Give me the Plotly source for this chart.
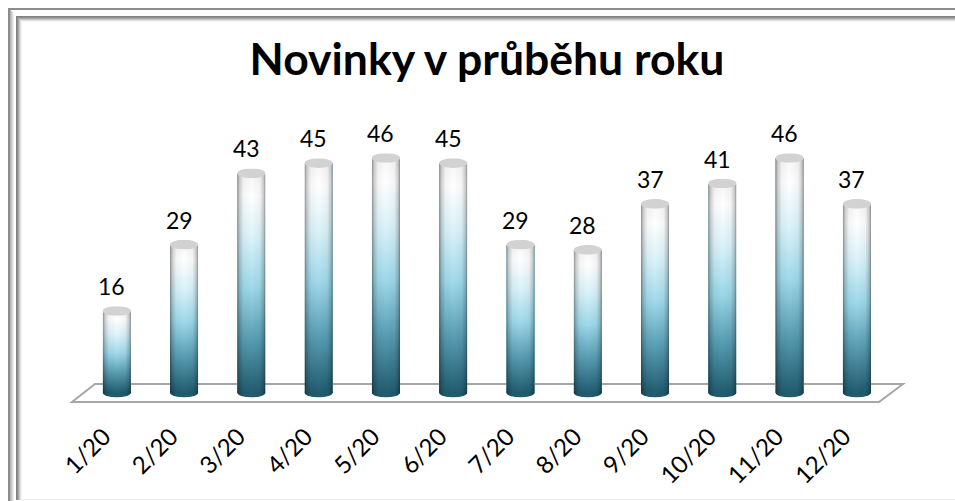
import base64
import plotly.graph_objects as go

title = "Novinky v průběhu roku"
months = ["1/20", "2/20", "3/20", "4/20", "5/20", "6/20", "7/20", "8/20", "9/20", "10/20", "11/20", "12/20"]
values = [16, 29, 43, 45, 46, 45, 29, 28, 37, 41, 46, 37]

W, H = 955, 501
PLOT_B = 402
X0, DX = 116.8, 67.28
Y0, DY = 392.6, 5.1
BAR_W = 0.42
CAP = 0.95  # half height of the cylinder caps, in value units


def uri(svg):
    return "data:image/svg+xml;base64," + base64.b64encode(svg.encode()).decode()


SHADE = ('<linearGradient id="h" x1="0" x2="1" y1="0" y2="0">'
         '<stop offset="0" stop-color="#000" stop-opacity=".45"/>'
         '<stop offset=".08" stop-color="#000" stop-opacity=".2"/>'
         '<stop offset=".22" stop-color="#000" stop-opacity=".04"/>'
         '<stop offset=".5" stop-color="#000" stop-opacity="0"/>'
         '<stop offset=".8" stop-color="#000" stop-opacity=".04"/>'
         '<stop offset=".93" stop-color="#000" stop-opacity=".2"/>'
         '<stop offset="1" stop-color="#000" stop-opacity=".45"/></linearGradient>')

BODY = uri('<svg xmlns="http://www.w3.org/2000/svg" viewBox="0 0 100 100" preserveAspectRatio="none" width="100" height="100">'
           '<defs><linearGradient id="v" x1="0" x2="0" y1="0" y2="1">'
           '<stop offset="0" stop-color="#f6f6f6"/>'
           '<stop offset=".1" stop-color="#ffffff"/>'
           '<stop offset=".3" stop-color="#d9f2f9"/>'
           '<stop offset=".52" stop-color="#9fd9ea"/>'
           '<stop offset=".75" stop-color="#5a9fb4"/>'
           '<stop offset="1" stop-color="#215c6f"/></linearGradient>' + SHADE + '</defs>'
           '<rect width="100" height="100" fill="url(#v)"/><rect width="100" height="100" fill="url(#h)"/></svg>')

TOP = uri('<svg xmlns="http://www.w3.org/2000/svg" viewBox="0 0 100 100" preserveAspectRatio="none" width="100" height="100">'
          '<ellipse cx="50" cy="50" rx="50" ry="50" fill="#d2d2d2"/></svg>')

BOTTOM = uri('<svg xmlns="http://www.w3.org/2000/svg" viewBox="0 0 100 100" preserveAspectRatio="none" width="100" height="100">'
             '<defs>' + SHADE + '</defs>'
             '<ellipse cx="50" cy="50" rx="50" ry="50" fill="#215c6f"/>'
             '<ellipse cx="50" cy="50" rx="50" ry="50" fill="url(#h)"/></svg>')

positions = list(range(len(months)))

images = []
for i, v in zip(positions, values):
    common = dict(xref="x", yref="y", xanchor="left", yanchor="top", sizing="stretch",
                  layer="above", x=i - BAR_W / 2, sizex=BAR_W)
    images.append(dict(source=BOTTOM, y=CAP, sizey=2 * CAP, **common))
    images.append(dict(source=BODY, y=v, sizey=v, **common))
    images.append(dict(source=TOP, y=v + CAP, sizey=2 * CAP, **common))


def px(x):
    return x / W


def py(y):
    return 1 - y / PLOT_B


def rect(x0, y0, x1, y1, color):
    return dict(type="rect", xref="paper", yref="paper", layer="below",
                x0=px(x0), x1=px(x1), y0=py(y0), y1=py(y1),
                fillcolor=color, line=dict(width=0))


shapes = []
# outer frame line
shapes.append(rect(8, 8, W, 10, "#8c8c8c"))
shapes.append(rect(8, 8, 10, H, "#8c8c8c"))
# outer bevel, left
for k, c in enumerate(["#b5b5b5", "#c8c8c8", "#dcdcdc", "#ececec"]):
    shapes.append(rect(10 + k, 10 + k, 11 + k, H, c))
# inner bevel
for k, c in enumerate(["#808080", "#8f8f8f", "#a8a8a8", "#c4c4c4", "#e2e2e2", "#f3f3f3"]):
    shapes.append(rect(16 + k, 16 + k, W, 17 + k, c))
    shapes.append(rect(16 + k, 16 + k, 17 + k, H - 1, c))
shapes.append(rect(22, H - 2, W, H - 1, "#f0f0f0"))
# floor of the 3D plot
shapes.append(dict(type="path", xref="paper", yref="paper", layer="below",
                   path=f"M {px(72)} {py(402)} L {px(95)} {py(384)} L {px(903)} {py(384)} L {px(879)} {py(402)} Z",
                   line=dict(color="#a6a6a6", width=2), fillcolor="rgba(0,0,0,0)"))

annotations = [dict(x=i, y=v, xref="x", yref="y", text=str(v), showarrow=False,
                    xanchor="center", yanchor="bottom", xshift=-5, yshift=9,
                    font=dict(family="Lato", size=23, color="#000000"))
               for i, v in zip(positions, values)]

fig = go.Figure(go.Bar(x=positions, y=values, width=BAR_W, marker=dict(color="#7fb9cc", line=dict(width=0)),
                       hoverinfo="x+y", name="Novinky"))

fig.update_layout(
    width=W, height=H, autosize=False,
    margin=dict(l=0, r=0, t=0, b=H - PLOT_B, pad=0),
    paper_bgcolor="#ffffff", plot_bgcolor="rgba(0,0,0,0)",
    showlegend=False, bargap=0,
    title=dict(text=f"<b>{title}</b>", x=487 / W, xanchor="center", y=1 - 59 / H, yanchor="middle",
               yref="container", font=dict(family="Lato", size=44.5, color="#000000")),
    images=images, shapes=shapes, annotations=annotations,
    xaxis=dict(range=[-X0 / DX, (W - X0) / DX], tickmode="array",
               tickvals=[p - 0.193 for p in positions], ticktext=months, tickangle=-45,
               showgrid=False, zeroline=False, showline=False,
               ticks="outside", ticklen=10, tickcolor="rgba(0,0,0,0)",
               tickfont=dict(family="Lato", size=24, color="#000000")),
    yaxis=dict(range=[(Y0 - PLOT_B) / DY, Y0 / DY], visible=False),
)

fig.write_html("out.html", config=dict(displayModeBar=False),
               post_script="document.body.style.margin='0';document.documentElement.style.overflow='hidden';")
